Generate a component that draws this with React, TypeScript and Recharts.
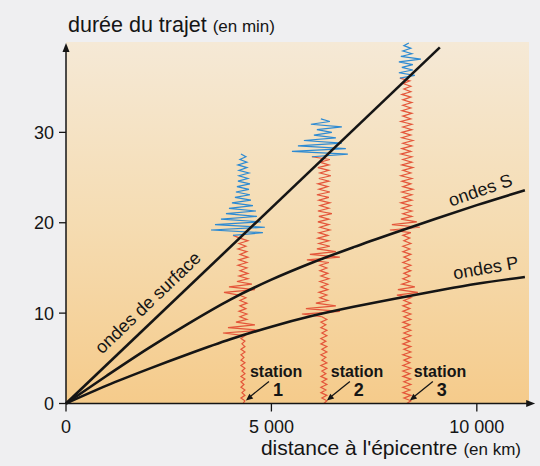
import {
  ComposedChart, Line, Scatter, XAxis, YAxis, ReferenceArea, ReferenceLine
} from 'recharts'

const FONT = '"Liberation Sans", Arial, Helvetica, sans-serif'
const INK = '#151515'

// travel-time curves: distance (km) -> time (min)
const distP = [0, 1000, 2000, 3000, 4000, 5000, 6000, 7000, 8000, 9000, 10000, 11170]
const timeP = [0, 2.0, 3.8, 5.5, 7.1, 8.5, 9.7, 10.7, 11.6, 12.45, 13.25, 14.0]
const distS = [0, 1000, 2000, 3000, 4000, 5000, 6000, 7000, 8000, 9000, 10000, 11170]
const timeS = [0, 3.1, 6.1, 8.9, 11.5, 13.7, 15.6, 17.3, 18.9, 20.45, 21.95, 23.6]
const distSurface = [0, 9100]
const timeSurface = [0, 39.4]

// stations
const stationKm = [4307, 6277, 8297]
const stationNames = ['1', '2', '3']

// seismograms: signed amplitude, one sample every STEP minutes from t = 0
const STEP = 0.3
const AMP_KM = 24.3 // km of distance per amplitude unit
const trace1 = [
  0, 2, -2, 2, -1, 2, -2, 1, -2, 2, -2, 2, -1, 2, -2, 2, -2, 1, -2, 2, -2, 2, -1, 2, -2, 2,
  -20, 18, -15, 12, -7,
  4, -3, 4, -4, 3, -3, 4, -3, 3, -4,
  -19, 12, -14, 9, -6,
  5, -4, 5, -3, 4, -5, 4, -4, 5, -3, 4, -5, 3, -4, 5, -3,
  // surface waves
  -10, 20, -32, 22, -28, 18, -22, 14, -17, 13, -14, 10, -11, 8, -8, 7, -7, 6, -6, 7,
  -5, 5, -4, 6, -4, 4, -5, 4, -3, 3, -2,
]
const trace2 = [
  0, 3, -2, 3, -3, 2, -3, 3, -2, 3, -3, 2, -2, 3, -3, 3, -2, 2, -3, 3,
  -2, 3, -3, 2, -3, 3, -2, 3, -3, 2, -3, 3, -2,
  -22, 16, -18, 12, -8,
  4, -4, 3, -5, 4, -3, 4, -4, 5, -3, 4, -4, 3, -4, 5,
  -17, 16, -14, 12, -7,
  6, -5, 5, -6, 4, -5, 6, -4, 5, -6, 5, -5, 8, -6, 5, -4, 6, -5, 5, -7,
  6, -5, 4, -6, 5, -5, 7, -4, 5, -6, 5, -4, 6,
  // surface waves
  -12, 24, -32, 22, -26, 18, -20, 12, -10, 8, -7, 18, -13, 6, -3,
]
const trace3 = [
  0, 4, -3, 4, -4, 3, -4, 4, -3, 4, -4, 3, -4, 4, -4, 3, -3, 4, -4, 4,
  -3, 4, -4, 3, -4, 4, -3, 4, -4, 3, -4, 4, -3, 4, -4, 3, -4, 4, -3, 4,
  -10, 11, -9, 8, -5,
  3, -4, 3, -3, 4, -3, 4, -4, 3, -3, 4, -4, 3, -4, 4, -3, 3, -4, 4,
  -17, 13, -15, 10, -6,
  5, -4, 5, -5, 4, -6, 5, -4, 5, -5, 6, -4, 4, -5, 5, -6, 4, -4, 6, -5,
  5, -4, 5, -6, 4, -5, 5, -4, 6, -5, 4, -5, 5, -4, 5, -6, 4, -4, 5, -5,
  4, -4, 5, -4, 4, -5, 4, -3, 4, -4, 3,
  // surface waves
  -7, 8, -8, 6, -5, 6, -8, 14, -6, 5, -4, 4, -3, 2,
]
const traces = [trace1, trace2, trace3]
const surfaceSample = [62, 91, 120]

// curve labels
const waveLabels = ['ondes de surface', 'ondes S', 'ondes P']
const labelKm = [1995, 10085, 10219]
const labelMin = [11.15, 23.6, 15.0]
const labelAngle = [-43.6, -19, -10]

const rows = (xs: number[], ys: number[]) => xs.map((x, i) => ({ x, y: ys[i] }))
const pRows = rows(distP, timeP)
const sRows = rows(distS, timeS)
const surfRows = rows(distSurface, timeSurface)

const seismo = traces.map((tr, k) => {
  const pts = tr.map((a, i) => ({ x: stationKm[k] + a * AMP_KM, y: +(i * STEP).toFixed(2) }))
  return { red: pts.slice(0, surfaceSample[k] + 1), blue: pts.slice(surfaceSample[k]) }
})

const stationRows = stationKm.map((x, i) => ({ x, y: 0, name: stationNames[i] }))
const labelRows = waveLabels.map((t, i) => ({ x: labelKm[i], y: labelMin[i], text: t, angle: labelAngle[i] }))

const fmt = (v: number) => String(v).replace(/\B(?=(\d{3})+$)/g, ' ')

function AxisArrow(props: any) {
  const { x1, y1, x2, y2 } = props
  const horiz = Math.abs(x2 - x1) > Math.abs(y2 - y1)
  const head = horiz
    ? `${x2},${y2} ${x2 - 9},${y2 - 3.5} ${x2 - 9},${y2 + 3.5}`
    : `${x2},${y2} ${x2 - 3.5},${y2 + 9} ${x2 + 3.5},${y2 + 9}`
  return (
    <g>
      <line x1={x1} y1={y1} x2={horiz ? x2 - 6 : x2} y2={horiz ? y2 : y2 + 6} stroke={INK} strokeWidth={1.5} />
      <polygon points={head} fill={INK} />
    </g>
  )
}

function StationMark(props: any) {
  const { cx, cy, payload } = props
  return (
    <g fontFamily={FONT} fill={INK}>
      <text x={cx + 7} y={cy - 27} fontSize={16} fontWeight="bold">station</text>
      <text x={cx + 35} y={cy - 8} fontSize={18} fontWeight="bold" textAnchor="middle">{payload.name}</text>
      <line x1={cx + 26} y1={cy - 22} x2={cx + 8} y2={cy - 7.5} stroke={INK} strokeWidth={1.3} />
      <polygon points={`${cx + 3},${cy - 3} ${cx + 6.5},${cy - 9.8} ${cx + 10.3},${cy - 5.1}`} fill={INK} />
    </g>
  )
}

function WaveLabel(props: any) {
  const { cx, cy, payload } = props
  return (
    <text x={cx} y={cy} fontFamily={FONT} fontSize={18} fill={INK} textAnchor="middle"
      dominantBaseline="central" transform={`rotate(${payload.angle} ${cx} ${cy})`}>
      {payload.text}
    </text>
  )
}

export default function App() {
  return (
    <div style={{ position: 'relative', width: 540, height: 466, background: '#efeff1', overflow: 'hidden' }}>
      <style>{'body{margin:0}'}</style>
      <ComposedChart width={540} height={466} margin={{ top: 42, right: 11, bottom: 22.5, left: 26 }}>
        <defs>
          <linearGradient id="plotBg" x1="0" y1="0" x2="0" y2="1">
            <stop offset="0%" stopColor="#f5e9d6" />
            <stop offset="50%" stopColor="#f5dcb2" />
            <stop offset="100%" stopColor="#f5cb8b" />
          </linearGradient>
        </defs>
        <XAxis type="number" dataKey="x" domain={[0, 11270]} ticks={[0, 5000, 10000]} height={40}
          tickFormatter={fmt} axisLine={false} tickSize={8} tickMargin={9}
          tickLine={{ stroke: INK, strokeWidth: 1.3 }}
          tick={{ fill: INK, fontSize: 18, fontFamily: FONT }} />
        <YAxis type="number" dataKey="y" domain={[0, 40]} ticks={[0, 10, 20, 30]} width={40}
          axisLine={false} tickSize={7} tickMargin={5}
          tickLine={{ stroke: INK, strokeWidth: 1.3 }}
          tick={{ fill: INK, fontSize: 18, fontFamily: FONT }} />
        <ReferenceArea x1={0} x2={11270} y1={0} y2={40} fill="url(#plotBg)" fillOpacity={1} stroke="none" />

        {seismo.map((s, k) => (
          <Line key={'r' + k} data={s.red} dataKey="y" type="linear" stroke="#e4563a" strokeWidth={1.2}
            dot={false} activeDot={false} isAnimationActive={false} />
        ))}
        {seismo.map((s, k) => (
          <Line key={'b' + k} data={s.blue} dataKey="y" type="linear" stroke="#2d8ad2" strokeWidth={1.2}
            dot={false} activeDot={false} isAnimationActive={false} />
        ))}

        <Line data={surfRows} dataKey="y" type="linear" stroke={INK} strokeWidth={2.6}
          dot={false} activeDot={false} isAnimationActive={false} />
        <Line data={sRows} dataKey="y" type="monotone" stroke={INK} strokeWidth={2.6}
          dot={false} activeDot={false} isAnimationActive={false} />
        <Line data={pRows} dataKey="y" type="monotone" stroke={INK} strokeWidth={2.6}
          dot={false} activeDot={false} isAnimationActive={false} />

        <Scatter data={labelRows} shape={WaveLabel} isAnimationActive={false} />
        <Scatter data={stationRows} shape={StationMark} isAnimationActive={false} />

        <ReferenceLine segment={[{ x: 0, y: 0 }, { x: 11420, y: 0 }]} ifOverflow="visible" shape={AxisArrow} />
        <ReferenceLine segment={[{ x: 0, y: 0 }, { x: 0, y: 39.9 }]} ifOverflow="visible" shape={AxisArrow} />
      </ComposedChart>
      <svg width={540} height={466} style={{ position: 'absolute', left: 0, top: 0, pointerEvents: 'none' }}>
        <text x={68} y={32} fontFamily={FONT} fontSize={21.5} fill={INK}>
          durée du trajet <tspan fontSize={17}>(en min)</tspan>
        </text>
        <text x={521} y={455} fontFamily={FONT} fontSize={21} fill={INK} textAnchor="end">
          distance à l'épicentre <tspan fontSize={17}>(en km)</tspan>
        </text>
      </svg>
    </div>
  )
}
